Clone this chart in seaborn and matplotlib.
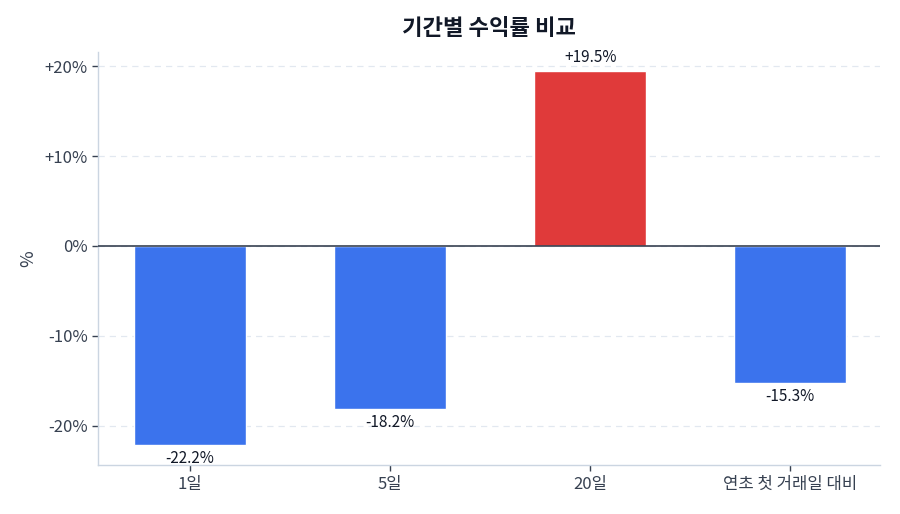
import matplotlib
matplotlib.use("Agg")
import matplotlib.pyplot as plt
import seaborn as sns
import pandas as pd

CATEGORIES = ["1일", "5일", "20일", "연초 첫 거래일 대비"]
RETURNS = [-22.2, -18.2, 19.5, -15.3]
Y_TICKS = [-20, -10, 0, 10, 20]

UP_COLOR = "#e03a3a"
DOWN_COLOR = "#3b73ed"

sns.set_theme(style="white")
plt.rcParams["font.family"] = ["Noto Sans CJK KR", "DejaVu Sans"]
plt.rcParams["axes.unicode_minus"] = False

df = pd.DataFrame({"period": CATEGORIES, "ret": RETURNS})
colors = [UP_COLOR if v >= 0 else DOWN_COLOR for v in RETURNS]

fig, ax = plt.subplots(figsize=(9, 5.14), dpi=100)
sns.barplot(data=df, x="period", y="ret", hue="period", palette=colors,
            legend=False, width=0.56, saturation=1, ax=ax)

ax.axhline(0, color="#374151", lw=1.2, zorder=3)
ax.set_xlim(-0.46, 3.45)
ax.set_ylim(-24.4, 21.6)
ax.set_yticks(Y_TICKS)
ax.set_yticklabels([f"{t:+d}%" if t != 0 else "0%" for t in Y_TICKS])
ax.yaxis.grid(True, linestyle=(0, (5, 4)), color="#e2e8f0", lw=0.9)
ax.set_axisbelow(True)

for i, v in enumerate(RETURNS):
    if v >= 0:
        ax.text(i, v + 0.5, f"+{v:.1f}%", ha="center", va="bottom",
                fontsize=11, color="#111827")
    else:
        ax.text(i, v - 0.5, f"{v:.1f}%", ha="center", va="top",
                fontsize=11, color="#111827")

ax.set_title("기간별 수익률 비교", fontsize=16, fontweight="bold",
             color="#111827", pad=12)
ax.set_xlabel("")
ax.set_ylabel("%", fontsize=13, color="#374151", labelpad=5)
ax.tick_params(axis="both", labelsize=12, colors="#374151",
               length=4, width=1, left=True, bottom=True)
for s in ["top", "right"]:
    ax.spines[s].set_visible(False)
for s in ["left", "bottom"]:
    ax.spines[s].set_color("#cbd5e1")
    ax.spines[s].set_linewidth(1)

fig.subplots_adjust(left=0.109, right=0.978, top=0.899, bottom=0.095)
fig.savefig("out.png", dpi=100)
